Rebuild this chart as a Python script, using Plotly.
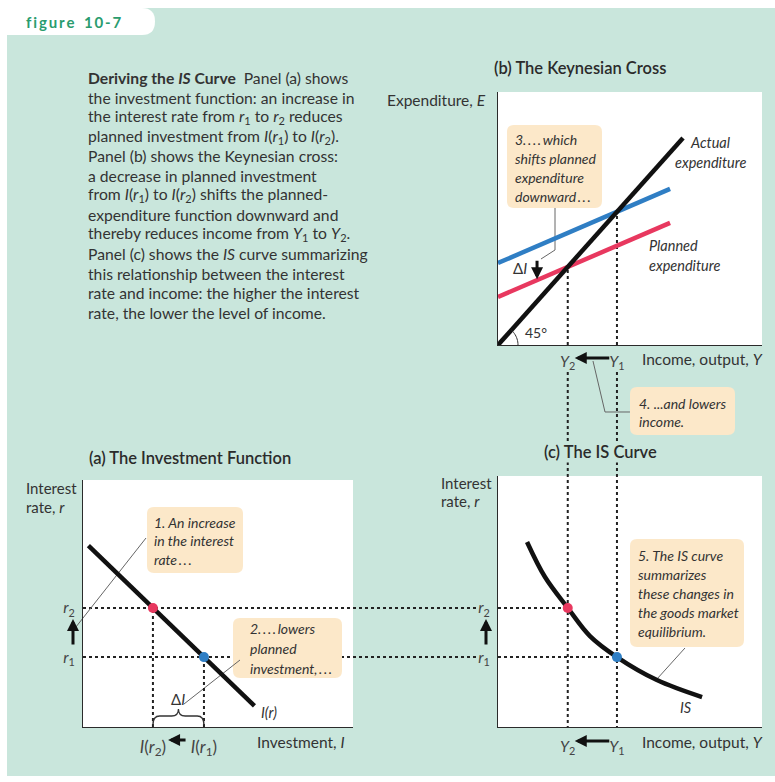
import numpy as np
import plotly.graph_objects as go

W, H = 775, 782
FONT = "Lato, sans-serif"

# ---------------- data ----------------
# panel (a) investment function, axes: I (x) and r (y)
I_line = [0.2, 6.35]
r_line = [7.34, 0.86]
r_vals = [2.83, 4.82]      # r1, r2
I_vals = [4.48, 2.59]      # I(r1), I(r2)

# panel (b) Keynesian cross
actual_Y = [0, 100]
actual_E = [0, 100]
planned_Y = [0, 93]
planned_E1 = [39.6, 75.4]  # before the rise in r (blue)
planned_E2 = [23.2, 59.0]  # after (red)
Y_vals = [64.3, 37.7]      # Y1, Y2

# panel (c) IS curve
IS_Y = [15.7, 25.4, 37.7, 49.7, 64.3, 85.9, 110.3]
IS_r = [7.49, 6.07, 4.82, 3.68, 2.83, 1.90, 1.21]

# tick labels
r_ticks = ["<i>r</i><sub>1</sub>", "<i>r</i><sub>2</sub>"]
I_ticks = ["<i>I</i>(<i>r</i><sub>1</sub>)", "<i>I</i>(<i>r</i><sub>2</sub>)"]
Y_ticks = ["<i>Y</i><sub>1</sub>", "<i>Y</i><sub>2</sub>"]

# ---------------- styles ----------------
GREEN = "#c9e6dc"
RED = "#e8385f"
BLUE = "#2f7ec4"
CREAM = "#fce8c9"
DOTC = "#222222"
TXT = "#333333"
GREY = "#666666"

# panel boxes in pixels (left, top, right, bottom)
PA = (83, 480, 353, 727)
PB = (498, 92, 762, 345)
PC = (498, 476, 762, 727)


def px(x):
    return x / W


def py(y):
    return 1 - y / H


def pth(cmds, close=False):
    out = []
    for c, pts in cmds:
        xy = [f"{px(pts[i]):.5f},{py(pts[i + 1]):.5f}" for i in range(0, len(pts), 2)]
        out.append(c + " ".join(xy))
    return " ".join(out) + (" Z" if close else "")


def rrect(x0, y0, x1, y1, r=7):
    return pth([("M", [x0 + r, y0]), ("L", [x1 - r, y0]), ("Q", [x1, y0, x1, y0 + r]),
                ("L", [x1, y1 - r]), ("Q", [x1, y1, x1 - r, y1]), ("L", [x0 + r, y1]),
                ("Q", [x0, y1, x0, y1 - r]), ("L", [x0, y0 + r]), ("Q", [x0, y0, x0 + r, y0])],
               close=True)


shapes = []
annotations = []

# background, tab, white panels
shapes.append(dict(type="rect", xref="paper", yref="paper", x0=px(7), x1=px(775), y0=py(776), y1=py(8),
                   fillcolor=GREEN, line_width=0, layer="below"))
shapes.append(dict(type="path", xref="paper", yref="paper", layer="below", fillcolor="white", line_width=0,
                   path=pth([("M", [0, 8]), ("L", [142, 8]), ("Q", [155, 8, 155, 21.5]),
                             ("Q", [155, 35, 142, 35]), ("L", [0, 35])], close=True)))
for (l, t, r, b) in (PA, PB, PC):
    shapes.append(dict(type="rect", xref="paper", yref="paper", x0=px(l), x1=px(r), y0=py(b), y1=py(t),
                       fillcolor="white", line_width=0, layer="below"))

dotline = dict(color=DOTC, width=2, dash="dot")
# dotted r lines running from panel (a) over to panel (c)
for rv in r_vals:
    shapes.append(dict(type="line", xref="paper", yref="y", x0=px(PA[0]), x1=px(477), y0=rv, y1=rv,
                       line=dotline, layer="below"))
# dotted Y lines running from panel (b) down through panel (c)
for yv in Y_vals:
    shapes.append(dict(type="line", xref="x2", yref="paper", x0=yv, x1=yv, y0=py(372), y1=py(PC[3]),
                       line=dotline, layer="below"))

# callout boxes
for box in [(147, 507, 243, 573), (233, 618, 342, 678), (507, 125, 602, 208),
            (630, 387, 735, 435), (630, 539, 744, 647)]:
    shapes.append(dict(type="path", xref="paper", yref="paper", layer="below", fillcolor=CREAM,
                       line_width=0, path=rrect(*box)))

# callout leader lines
for pts in [[(72, 632), (146, 538)], [(184, 704), (240, 660)],
            [(555, 208), (555, 250), (541, 259)], [(593, 361), (605, 412), (630, 412)],
            [(657, 679), (685, 648)]]:
    cmds = [("M", list(pts[0]))] + [("L", list(p)) for p in pts[1:]]
    shapes.append(dict(type="path", xref="paper", yref="paper", layer="below",
                       line=dict(color=GREY, width=1), path=pth(cmds)))

# brace under delta I in panel (a)
a, b_ = I_vals[1], I_vals[0]
m = (a + b_) / 2
k = 0.25
brace = (f"M{a},{py(725)} Q{a},{py(716)} {a + k},{py(716)} L{m - k},{py(716)} "
         f"Q{m},{py(716)} {m},{py(709)} Q{m},{py(716)} {m + k},{py(716)} "
         f"L{b_ - k},{py(716)} Q{b_},{py(716)} {b_},{py(725)}")
shapes.append(dict(type="path", xref="x", yref="paper", path=brace, line=dict(color=TXT, width=1.3)))

# 45 degree arc
t = np.linspace(0, np.radians(48), 12)
arc = [("M", [PB[0] + 20, PB[3]])] + [("L", [PB[0] + 20 * np.cos(v), PB[3] - 20 * np.sin(v)]) for v in t[1:]]
shapes.append(dict(type="path", xref="paper", yref="paper", path=pth(arc), line=dict(color=TXT, width=1)))


# ---------------- text ----------------
def label(text, x, y, size=14, anchor="left", color=TXT, weight="normal", bg=None, italic=False):
    if italic:
        text = f"<i>{text}</i>"
    d = dict(text=text, x=px(x), y=py(y), xref="paper", yref="paper", xanchor=anchor, yanchor="middle",
             align=anchor if anchor != "center" else "center",
             showarrow=False, font=dict(family=FONT, size=size, color=color, weight=weight))
    if bg:
        d.update(bgcolor=bg, borderpad=0)
    annotations.append(d)


def lines(txts, x, y0, dy, size=13.5, anchor="left", italic=True, color=TXT):
    for i, s in enumerate(txts):
        label(s, x, y0 + i * dy, size=size, anchor=anchor, italic=italic, color=color)


label("f\u2009i\u2009g\u2009u\u2009r\u2009e\u2002\u20091\u20090\u2009-\u20097", 24, 22, size=15,
      color="#2a9c6e", weight="bold")

caption = [
    "<b>Deriving the <i>IS</i> Curve</b>\u2002Panel (a) shows",
    "the investment function: an increase in",
    "the interest rate from <i>r</i><sub>1</sub> to <i>r</i><sub>2</sub> reduces",
    "planned investment from <i>I</i>(<i>r</i><sub>1</sub>) to <i>I</i>(<i>r</i><sub>2</sub>).",
    "Panel (b) shows the Keynesian cross:",
    "a decrease in planned investment",
    "from <i>I</i>(<i>r</i><sub>1</sub>) to <i>I</i>(<i>r</i><sub>2</sub>) shifts the planned-",
    "expenditure function downward and",
    "thereby reduces income from <i>Y</i><sub>1</sub> to <i>Y</i><sub>2</sub>.",
    "Panel (c) shows the <i>IS</i> curve summarizing",
    "this relationship between the interest",
    "rate and income: the higher the interest",
    "rate, the lower the level of income.",
]
lines(caption, 86, 78, 19.55, size=15.7, italic=False)

# panel titles
label("(b) The Keynesian Cross", 580, 68, size=16.5, anchor="center", weight=600, color="#2b2b2b")
label("(a) The Investment Function", 190, 458, size=16.5, anchor="center", weight=600, color="#2b2b2b")
label("(c) The IS Curve", 600, 452, size=16.5, anchor="center", weight=600, color="#2b2b2b", bg=GREEN)

# axis labels
label("Expenditure, <i>E</i>", 488, 100, size=15.5, anchor="right")
label("Income, output, <i>Y</i>", 640, 359, size=15.5)
label("Income, output, <i>Y</i>", 640, 742, size=15.5)
label("Investment, <i>I</i>", 347, 742, size=15.5, anchor="right")
lines(["Interest", "rate, <i>r</i>"], 24, 488, 18.5, size=15, italic=False)
lines(["Interest", "rate, <i>r</i>"], 439, 483, 18.5, size=15, italic=False)

# callout texts
lines(["1. An increase", "in the interest", "rate\u2009.\u2009.\u2009."], 152, 522, 18.5, size=14)
lines(["2.\u2009.\u2009.\u2009.\u2009lowers", "planned", "investment,\u2009.\u2009.\u2009."], 248, 628, 20, size=14)
lines(["3.\u2009.\u2009.\u2009.\u2009which", "shifts planned", "expenditure", "downward\u2009.\u2009.\u2009."],
      513, 139, 19.3, size=14)
lines(["4. ...and lowers", "income."], 637, 403, 19, size=14)
lines(["5. The IS curve", "summarizes", "these changes in", "the goods market", "equilibrium."],
      636, 555, 19.2, size=14)

# curve labels
lines(["Actual", "expenditure"], 710, 142, 20, size=14.5, anchor="center")
lines(["Planned", "expenditure"], 647, 245, 20, size=14.5)
label("I(r)", 259, 712, size=14.5, italic=True)
label("IS", 678, 707, size=14.5, italic=True)
label("45°", 523, 332, size=14)
label("Δ<i>I</i>", 178, 699, size=15, anchor="center")
label("Δ<i>I</i>", 520, 268, size=15, anchor="center")


# arrows
def arrow(x, y, xref, yref, ax, ay):
    annotations.append(dict(x=x, y=y, xref=xref, yref=yref, ax=ax, ay=ay, axref="pixel", ayref="pixel",
                            text="", showarrow=True, arrowhead=2, arrowsize=0.8, arrowwidth=3,
                            arrowcolor="#111111", standoff=0, startstandoff=0))


arrow(px(73), r_vals[1] - 0.45, "paper", "y", 0, 27)
arrow(px(486), r_vals[1] - 0.45, "paper", "y", 0, 27)
arrow(I_vals[1] + 0.56, py(740), "x", "paper", 19, 0)
arrow(Y_vals[1] + 3.8, py(358), "x2", "paper", 36, 0)
arrow(Y_vals[1] + 3.8, py(741), "x3", "paper", 36, 0)
arrow(21.1, 31.8, "x2", "y2", 0, -20)

# ---------------- traces ----------------
fig = go.Figure()

# panel (a)
for iv, rv in zip(I_vals, r_vals):
    fig.add_trace(go.Scatter(x=[iv, iv], y=[0, rv], mode="lines", line=dotline, xaxis="x", yaxis="y"))
fig.add_trace(go.Scatter(x=I_line, y=r_line, mode="lines", line=dict(color="#111111", width=4.5),
                         xaxis="x", yaxis="y"))
fig.add_trace(go.Scatter(x=I_vals, y=r_vals, mode="markers", marker=dict(color=[BLUE, RED], size=10),
                         xaxis="x", yaxis="y"))

# panel (b)
for yv in Y_vals:
    fig.add_trace(go.Scatter(x=[yv, yv], y=[0, yv], mode="lines", line=dotline, xaxis="x2", yaxis="y2"))
fig.add_trace(go.Scatter(x=planned_Y, y=planned_E1, mode="lines", line=dict(color=BLUE, width=4.5),
                         xaxis="x2", yaxis="y2"))
fig.add_trace(go.Scatter(x=planned_Y, y=planned_E2, mode="lines", line=dict(color=RED, width=4.5),
                         xaxis="x2", yaxis="y2"))
fig.add_trace(go.Scatter(x=actual_Y, y=actual_E, mode="lines", line=dict(color="#111111", width=4.5),
                         xaxis="x2", yaxis="y2"))

# panel (c)
for yv, rv in zip(Y_vals, r_vals):
    fig.add_trace(go.Scatter(x=[0, yv], y=[rv, rv], mode="lines", line=dotline, xaxis="x3", yaxis="y3"))
fig.add_trace(go.Scatter(x=IS_Y, y=IS_r, mode="lines", line=dict(color="#111111", width=4.5, shape="spline"),
                         xaxis="x3", yaxis="y3"))
fig.add_trace(go.Scatter(x=Y_vals, y=r_vals, mode="markers", marker=dict(color=[BLUE, RED], size=10),
                         xaxis="x3", yaxis="y3"))

ax = dict(showgrid=False, zeroline=False, showline=True, linecolor="#2b2b2b", linewidth=1.3, ticks="",
          fixedrange=True, tickfont=dict(family=FONT, size=15.5, color="#444444"))

fig.update_layout(
    width=W, height=H, margin=dict(l=0, r=0, t=0, b=0),
    paper_bgcolor="white", plot_bgcolor="rgba(0,0,0,0)", showlegend=False,
    xaxis=dict(ax, domain=[px(PA[0]), px(PA[2])], range=[0, 10], anchor="y",
               tickvals=I_vals, ticktext=I_ticks, ticklabelstandoff=4,
               tickfont=dict(family=FONT, size=17, color="#444444")),
    yaxis=dict(ax, domain=[py(PA[3]), py(PA[1])], range=[0, 10], anchor="x",
               tickvals=r_vals, ticktext=r_ticks, ticklabelstandoff=4),
    xaxis2=dict(ax, domain=[px(PB[0]), px(PB[2])], range=[0, 142.7], anchor="y2",
                tickvals=Y_vals, ticktext=Y_ticks, ticklabelstandoff=2),
    yaxis2=dict(ax, domain=[py(PB[3]), py(PB[1])], range=[0, 122.2], anchor="x2", showticklabels=False),
    xaxis3=dict(ax, domain=[px(PC[0]), px(PC[2])], range=[0, 142.7], anchor="y3",
                tickvals=Y_vals, ticktext=Y_ticks, ticklabelstandoff=5),
    yaxis3=dict(ax, domain=[py(PC[3]), py(PC[1])], range=[0, 10.16], anchor="x3",
                tickvals=r_vals, ticktext=r_ticks, ticklabelstandoff=4),
    shapes=shapes,
    annotations=annotations,
)

# the page gets the default 8px body margin otherwise
fig.write_html("out.html", config={"displayModeBar": False},
               post_script="document.body.style.margin='0px';")
